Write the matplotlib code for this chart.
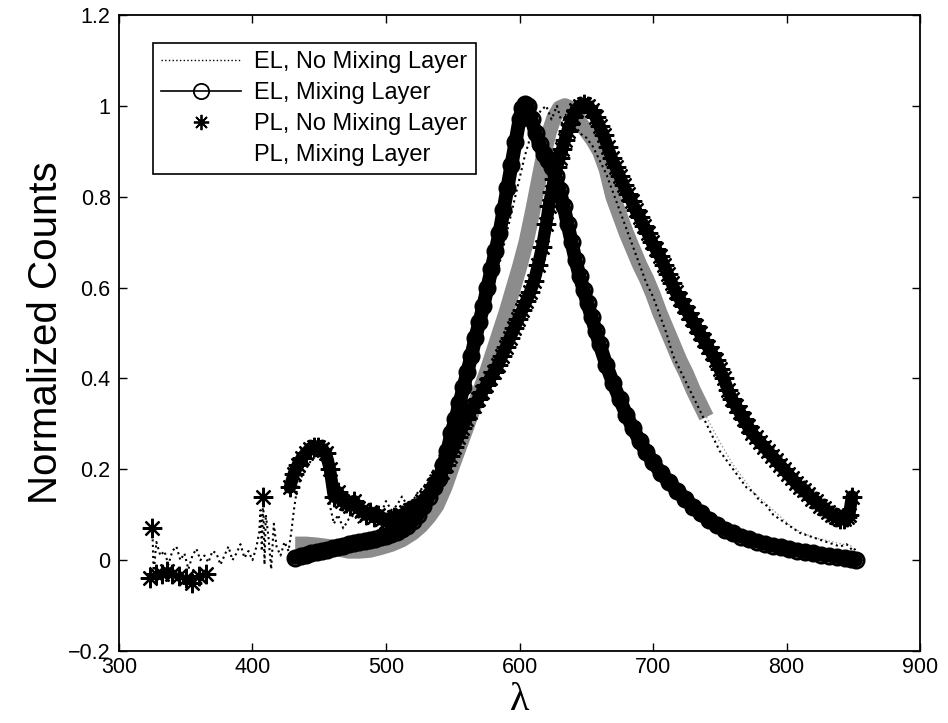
import matplotlib
matplotlib.use("Agg")
import matplotlib.pyplot as plt
from matplotlib.lines import Line2D

plt.rcParams['font.family'] = ['Liberation Sans', 'DejaVu Sans']

# EL, no mixing layer (dotted, noisy)
wl_el_nomix = [325, 326, 328, 331, 334, 337, 340, 343, 346, 349,
               352, 355, 358, 361, 364, 367, 370, 373, 376, 379,
               382, 385, 388, 391, 394, 397, 400, 403, 405, 406,
               407, 408, 409, 410, 412, 414, 416, 418, 421, 424,
               427, 429, 431, 433, 436, 440, 444, 448, 452, 455,
               458, 461, 464, 468, 472, 476, 480, 484, 488, 492,
               496, 500, 504, 508, 512, 516, 520, 524, 528, 532,
               536, 540, 544, 548, 552, 556, 560, 564, 568, 572,
               576, 580, 584, 588, 592, 596, 600, 604, 608, 612,
               616, 620, 624, 628, 632, 636, 640, 645, 650, 655,
               660, 665, 670, 675, 680, 685, 690, 695, 700, 705,
               710, 715, 720, 725, 730, 735, 740, 745, 750, 755,
               760, 765, 770, 775, 780, 785, 790, 795, 800, 805,
               810, 815, 820, 825, 830, 835, 840, 845, 850, 853]
el_nomix = [0.07, -0.03, 0.04, 0.01, 0.02, -0.01, 0.02, 0.03, 0.0, 0.015,
            -0.02, 0.01, 0.025, 0.0, 0.01, -0.005, 0.02, 0.015, -0.01, 0.01,
            0.03, 0.0, 0.015, 0.035, 0.005, 0.02, 0.0, 0.03, 0.06, 0.11,
            0.02, 0.14, -0.01, 0.1, 0.05, -0.02, 0.08, 0.03, 0.01, 0.04,
            0.02, 0.06, 0.11, 0.15, 0.18, 0.2, 0.22, 0.23, 0.22, 0.2,
            0.12, 0.08, 0.1, 0.07, 0.09, 0.1, 0.08, 0.11, 0.09, 0.12,
            0.1, 0.13, 0.11, 0.12, 0.14, 0.12, 0.13, 0.15, 0.16, 0.18,
            0.2, 0.23, 0.26, 0.3, 0.33, 0.37, 0.41, 0.44, 0.48, 0.52,
            0.56, 0.6, 0.64, 0.69, 0.74, 0.79, 0.84, 0.89, 0.93, 0.97,
            0.99, 1.0, 0.97, 1.0, 0.96, 0.99, 0.97, 0.94, 0.93, 0.91,
            0.88, 0.85, 0.81, 0.77, 0.73, 0.69, 0.65, 0.61, 0.58, 0.54,
            0.5, 0.45, 0.42, 0.39, 0.36, 0.33, 0.3, 0.27, 0.24, 0.22,
            0.2, 0.18, 0.16, 0.15, 0.13, 0.12, 0.1, 0.09, 0.08, 0.07,
            0.06, 0.055, 0.05, 0.045, 0.04, 0.035, 0.03, 0.035, 0.02, 0.03]

# EL, mixing layer (solid line + open circles)
wl_el_mix = [432, 436, 440, 444, 448, 452, 456, 460, 464, 468,
             472, 476, 480, 484, 488, 492, 496, 500, 504, 508,
             512, 516, 520, 524, 528, 532, 536, 540, 543, 546,
             549, 552, 555, 558, 561, 564, 567, 570, 573, 576,
             579, 582, 585, 588, 591, 594, 597, 600, 602, 604,
             606, 609, 612, 615, 618, 621, 624, 627, 630, 633,
             636, 639, 642, 645, 648, 651, 654, 657, 660, 665,
             670, 675, 680, 685, 690, 695, 700, 706, 712, 718,
             724, 730, 736, 742, 748, 754, 760, 766, 772, 778,
             784, 790, 796, 802, 808, 814, 820, 826, 832, 838,
             844, 848, 852]
el_mix = [0.005, 0.008, 0.012, 0.015, 0.018, 0.02, 0.023, 0.026, 0.029, 0.032,
          0.035, 0.038, 0.04, 0.042, 0.045, 0.047, 0.05, 0.053, 0.057, 0.062,
          0.068, 0.076, 0.086, 0.1, 0.12, 0.14, 0.16, 0.18, 0.21, 0.24,
          0.28, 0.31, 0.345, 0.38, 0.415, 0.45, 0.49, 0.525, 0.56, 0.6,
          0.64, 0.68, 0.72, 0.77, 0.82, 0.87, 0.92, 0.97, 0.995, 1.005,
          1.0, 0.97, 0.94, 0.915, 0.895, 0.88, 0.865, 0.845, 0.815, 0.78,
          0.74, 0.7, 0.66, 0.625, 0.595, 0.565, 0.535, 0.505, 0.475, 0.43,
          0.39, 0.355, 0.32, 0.29, 0.262, 0.238, 0.215, 0.192, 0.172, 0.153,
          0.135, 0.118, 0.103, 0.088, 0.077, 0.067, 0.059, 0.052, 0.046, 0.041,
          0.036, 0.032, 0.028, 0.024, 0.021, 0.018, 0.015, 0.012, 0.01, 0.007,
          0.005, 0.003, 0.0]

# PL, no mixing layer (asterisks)
wl_pl_nomix = [323, 325, 328, 332, 336, 340, 345, 350, 355, 360,
               365, 408, 428, 431, 434, 437, 440, 443, 446, 449,
               452, 455, 458, 461, 464, 467, 470, 473, 476, 479,
               482, 485, 488, 491, 494, 497, 500, 503, 506, 509,
               512, 515, 518, 521, 524, 527, 530, 533, 536, 539,
               542, 545, 548, 551, 554, 557, 560, 563, 566, 569,
               572, 575, 578, 581, 584, 587, 590, 593, 596, 599,
               602, 605, 608, 611, 614, 617, 620, 622, 624, 626,
               628, 630, 632, 634, 636, 638, 640, 642, 645, 648,
               651, 654, 657, 660, 663, 666, 669, 672, 675, 678,
               681, 684, 687, 690, 693, 696, 699, 702, 705, 708,
               711, 714, 717, 720, 723, 726, 729, 732, 735, 738,
               741, 744, 747, 750, 753, 756, 759, 762, 765, 768,
               771, 774, 777, 780, 783, 786, 789, 792, 795, 798,
               801, 804, 807, 810, 813, 816, 819, 822, 825, 828,
               831, 834, 837, 840, 843, 845, 847, 849]
pl_nomix = [-0.04, 0.07, -0.03, -0.03, -0.025, -0.03, -0.035, -0.04, -0.05, -0.035,
            -0.03, 0.14, 0.16, 0.19, 0.21, 0.225, 0.235, 0.245, 0.25, 0.25,
            0.245, 0.235, 0.2, 0.14, 0.15, 0.13, 0.125, 0.12, 0.13, 0.115,
            0.11, 0.1, 0.105, 0.095, 0.1, 0.09, 0.085, 0.09, 0.095, 0.09,
            0.1, 0.105, 0.11, 0.115, 0.12, 0.13, 0.14, 0.15, 0.165, 0.18,
            0.195, 0.21, 0.23, 0.25, 0.27, 0.29, 0.31, 0.325, 0.34, 0.355,
            0.37, 0.385, 0.4, 0.415, 0.43, 0.45, 0.47, 0.49, 0.51, 0.53,
            0.55, 0.57, 0.59, 0.615, 0.65, 0.69, 0.74, 0.78, 0.81, 0.84,
            0.865, 0.885, 0.905, 0.925, 0.945, 0.96, 0.975, 0.99, 1.0, 1.005,
            1.0, 0.99, 0.975, 0.955, 0.935, 0.91, 0.885, 0.865, 0.845, 0.825,
            0.805, 0.79, 0.77, 0.755, 0.735, 0.72, 0.7, 0.685, 0.67, 0.65,
            0.63, 0.61, 0.59, 0.575, 0.56, 0.545, 0.53, 0.515, 0.5, 0.485,
            0.47, 0.455, 0.44, 0.42, 0.4, 0.375, 0.355, 0.34, 0.325, 0.31,
            0.295, 0.28, 0.27, 0.26, 0.25, 0.24, 0.23, 0.22, 0.21, 0.2,
            0.19, 0.18, 0.17, 0.16, 0.155, 0.145, 0.135, 0.13, 0.12, 0.115,
            0.105, 0.1, 0.095, 0.09, 0.09, 0.095, 0.1, 0.14]

# PL, mixing layer (grey band)
wl_pl_mix = [432, 440, 448, 456, 464, 472, 480, 488, 496, 504,
             512, 520, 526, 532, 538, 544, 550, 555, 560, 565,
             570, 575, 580, 585, 590, 595, 600, 605, 610, 614,
             618, 622, 626, 630, 634, 638, 642, 646, 650, 655,
             660, 665, 670, 675, 680, 685, 690, 695, 700, 705,
             710, 715, 720, 725, 730, 735, 740, 750, 760, 775,
             790, 805, 820, 835, 850]
pl_mix = [0.035, 0.035, 0.033, 0.03, 0.025, 0.02, 0.02, 0.022, 0.028, 0.035,
          0.045, 0.06, 0.075, 0.095, 0.12, 0.16, 0.21, 0.25, 0.29, 0.33,
          0.37, 0.41, 0.455, 0.5, 0.545, 0.595, 0.645, 0.7, 0.77, 0.83,
          0.89, 0.94, 0.975, 0.995, 1.0, 0.995, 0.98, 0.96, 0.945, 0.925,
          0.9, 0.86, 0.8, 0.76, 0.72, 0.685, 0.65, 0.62, 0.585, 0.545,
          0.51, 0.475, 0.44, 0.41, 0.375, 0.345, 0.315, 0.26, 0.21, 0.15,
          0.11, 0.07, 0.05, 0.04, 0.03]

labels = ['EL, No Mixing Layer', 'EL, Mixing Layer',
          'PL, No Mixing Layer', 'PL, Mixing Layer']
xticks = [300, 400, 500, 600, 700, 800, 900]
yticks = [-0.2, 0, 0.2, 0.4, 0.6, 0.8, 1, 1.2]
ytick_labels = ['\u22120.2', '0', '0.2', '0.4', '0.6', '0.8', '1', '1.2']

fig = plt.figure(figsize=(9.48, 7.23), dpi=100)
ax = fig.add_axes([0.1255, 0.0996, 0.845, 0.8797])

# grey band, fading out in the tail
n_band = wl_pl_mix.index(740) + 1
ax.plot(wl_pl_mix[:n_band], pl_mix[:n_band], color='0.55', lw=11,
        solid_capstyle='butt', solid_joinstyle='round', zorder=1)
ax.plot(wl_pl_mix[n_band - 1:], pl_mix[n_band - 1:], color='0.6', lw=1,
        ls=':', zorder=1)

# dense measurements -> solid black bands
ax.plot(wl_el_mix, el_mix, color='k', ls='-', lw=10, marker='o', mfc='none',
        ms=11, mew=2, solid_capstyle='round', zorder=2)
ax.plot(wl_pl_nomix[12:], pl_nomix[12:], color='k', lw=9,
        solid_capstyle='round', zorder=3)
ax.plot(wl_pl_nomix, pl_nomix, ls='none', marker=(8, 2, 0), color='k',
        ms=14, mew=1.6, zorder=3)
ax.plot(wl_el_nomix, el_nomix, color='k', ls=':', lw=1.5, zorder=4)

ax.set_xlim(300, 900)
ax.set_ylim(-0.2, 1.2)
ax.set_xticks(xticks)
ax.set_yticks(yticks)
ax.set_yticklabels(ytick_labels)
ax.tick_params(direction='in', length=6, width=1, top=True, right=True,
               labelsize=15.5)
ax.tick_params(axis='x', pad=4)
ax.tick_params(axis='y', pad=6)
for s in ax.spines.values():
    s.set_linewidth(1.3)

ax.set_ylabel('Normalized Counts', fontsize=29)
ax.yaxis.set_label_coords(-0.068, 0.5)
ax.set_xlabel('\u03bb', fontsize=29, family=['Liberation Serif', 'DejaVu Serif'])
ax.xaxis.set_label_coords(0.5, -0.092)
ax.xaxis.label.set_va('baseline')

handles = [
    Line2D([], [], color='k', ls=':', lw=1),
    Line2D([], [], color='k', ls='-', lw=1.2, marker='o', mfc='none', ms=11, mew=1.3),
    Line2D([], [], ls='none', marker=(8, 2, 0), color='k', ms=11, mew=1.3),
    Line2D([], [], ls='none', color='none'),
]
leg = ax.legend(handles, labels, loc='upper left', bbox_to_anchor=(0.0424, 0.956),
                borderaxespad=0, fontsize=17, handlelength=3.4, handletextpad=0.55,
                labelspacing=0.38, borderpad=0.35, fancybox=False, framealpha=1,
                edgecolor='k')
leg.get_frame().set_linewidth(1.2)
leg.set_zorder(10)

fig.savefig('out.png', dpi=100)
